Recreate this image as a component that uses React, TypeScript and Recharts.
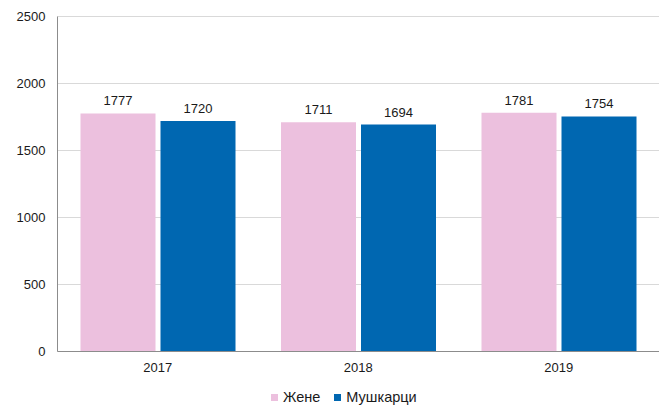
import React from 'react';
import { BarChart, Bar, XAxis, YAxis, CartesianGrid, LabelList, Legend } from 'recharts';

const years = ['2017', '2018', '2019'];
const women = [1777, 1711, 1781];
const men = [1720, 1694, 1754];
const yTicks = [0, 500, 1000, 1500, 2000, 2500];
const seriesNames = { women: 'Жене', men: 'Мушкарци' };
const colors = { women: '#ECC0DE', men: '#0067B1' };

const data = years.map((y, i) => ({ year: y, women: women[i], men: men[i] }));

const FONT = '"Liberation Sans", Arial, sans-serif';

const renderLegend = (props: any) => {
  const { payload } = props;
  return (
    <div style={{ display: 'flex', alignItems: 'center', height: 16, fontFamily: FONT, fontSize: 14.5, color: '#1a1a1a' }}>
      {payload.map((p: any, i: number) => (
        <div key={i} style={{ display: 'flex', alignItems: 'center', marginRight: i === 0 ? 14 : 0 }}>
          <div style={{ width: 7, height: 7, background: p.color, marginRight: 5 }} />
          <span>{p.value}</span>
        </div>
      ))}
    </div>
  );
};

export default function App() {
  return (
    <div style={{ position: 'absolute', left: 0, top: 0, width: 662, height: 406, background: '#fff' }}>
      <BarChart
        width={662}
        height={406}
        data={data}
        margin={{ top: 16.5, right: 3, bottom: 13.5, left: 0 }}
        barCategoryGap={23}
        barGap={5}
      >
        <CartesianGrid vertical={false} stroke="#d9d9d9" strokeWidth={1} />
        <XAxis
          dataKey="year"
          height={25}
          tickLine={false}
          axisLine={{ stroke: '#8c8c8c', strokeWidth: 1 }}
          tick={{ fill: '#1a1a1a', fontSize: 13, fontFamily: FONT }}
          tickSize={6}
          tickMargin={5}
        />
        <XAxis xAxisId="top" dataKey="year" orientation="top" height={0} tick={false} tickLine={false} axisLine={{ stroke: '#8c8c8c', strokeWidth: 1 }} />
        <YAxis
          width={57.5}
          domain={[0, 2500]}
          ticks={yTicks}
          interval={0}
          tickLine={false}
          axisLine={{ stroke: '#8c8c8c', strokeWidth: 1 }}
          tick={{ fill: '#1a1a1a', fontSize: 13, fontFamily: FONT }}
          tickSize={6}
          tickMargin={6}
        />
        <YAxis yAxisId="right" orientation="right" width={0} domain={[0, 2500]} tick={false} tickLine={false} axisLine={{ stroke: '#8c8c8c', strokeWidth: 1 }} />
        <Legend
          verticalAlign="bottom"
          content={renderLegend}
          wrapperStyle={{ left: 271, top: 389, width: 'auto' }}
        />
        <Bar dataKey="women" name={seriesNames.women} fill={colors.women} isAnimationActive={false}>
          <LabelList dataKey="women" position="top" offset={8} style={{ fill: '#1a1a1a', fontSize: 13, fontFamily: FONT }} />
        </Bar>
        <Bar dataKey="men" name={seriesNames.men} fill={colors.men} isAnimationActive={false}>
          <LabelList dataKey="men" position="top" offset={8} style={{ fill: '#1a1a1a', fontSize: 13, fontFamily: FONT }} />
        </Bar>
      </BarChart>
    </div>
  );
}
